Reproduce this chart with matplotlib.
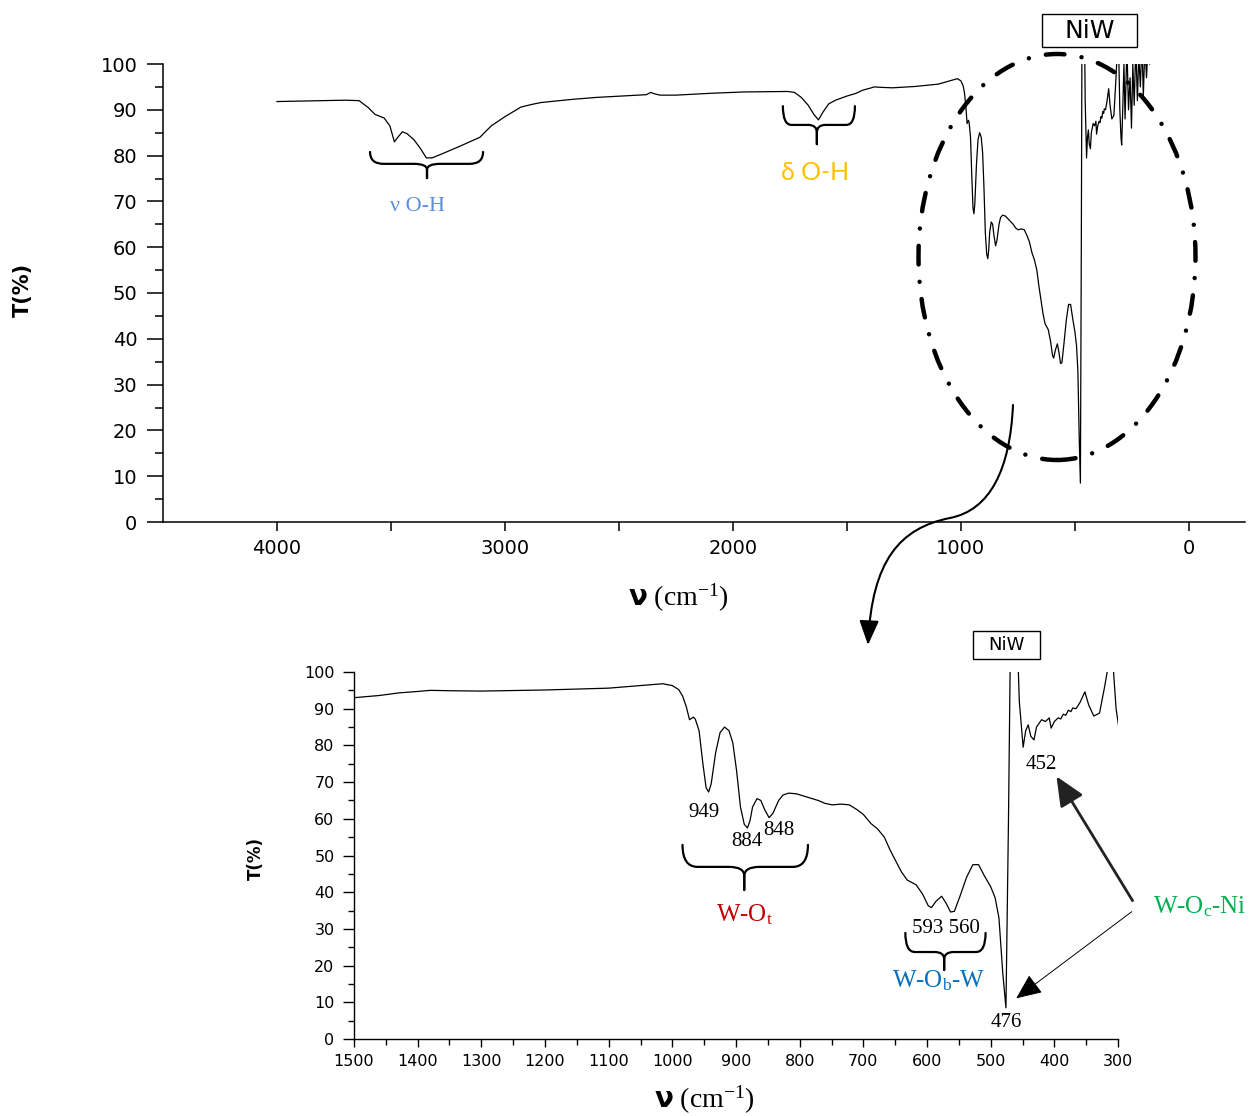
import numpy as np
import matplotlib
matplotlib.use("Agg")
import matplotlib.pyplot as plt
from matplotlib.patches import Ellipse, FancyArrowPatch, PathPatch, Rectangle
from matplotlib.path import Path

plt.rcParams['font.family'] = ['DejaVu Sans']
plt.rcParams['mathtext.fontset'] = 'custom'
plt.rcParams['mathtext.rm'] = 'Liberation Serif'
plt.rcParams['mathtext.it'] = 'Liberation Serif:italic'
plt.rcParams['mathtext.bf'] = 'DejaVu Sans:bold'

# FTIR spectrum of NiW (cm-1 / %T)
wavenumber = [
    4000, 3900, 3800, 3700, 3640, 3600, 3570, 3530, 3505, 3485,
    3470, 3450, 3430, 3400, 3370, 3345, 3320, 3280, 3200, 3110,
    3060, 3000, 2930, 2880, 2840, 2700, 2600, 2450, 2380, 2360,
    2345, 2320, 2250, 2100, 1950, 1760, 1730, 1700, 1670, 1645,
    1625, 1605, 1580, 1550, 1500, 1460, 1430, 1400, 1380, 1350,
    1300, 1200, 1100, 1030, 1015, 1000, 990, 984, 978, 973,
    967, 964, 958, 952, 947, 943, 939, 932, 925, 918,
    911, 905, 899, 893, 887, 882, 878, 874, 867, 861,
    855, 848, 842, 833, 826, 817, 805, 790, 771, 760,
    749, 735, 722, 710, 700, 688, 678, 667, 658, 650,
    640, 631, 617, 607, 598, 593, 586, 577, 570, 563,
    557, 548, 538, 528, 519, 510, 500, 493, 487, 481,
    476, 472, 469, 463, 458, 455, 449, 445, 441, 437,
    432, 428, 424, 420, 414, 408, 405, 400, 394, 390,
    386, 382, 378, 374, 371, 366, 360, 352, 346, 338,
    329, 321, 316, 312, 307, 303, 298, 295, 290, 285,
    280, 272, 265, 258, 252, 246, 240, 233, 226, 220,
    213, 206, 200, 193, 186, 178, 172,
]
transmittance = [
    91.8, 91.9, 92.0, 92.1, 92.0, 90.5, 89.0, 88.2, 86.5, 83.0,
    84.0, 85.2, 84.8, 83.5, 81.5, 79.5, 79.5, 80.3, 82.0, 84.0,
    86.5, 88.5, 90.6, 91.2, 91.6, 92.3, 92.7, 93.1, 93.3, 93.8,
    93.5, 93.2, 93.2, 93.6, 93.9, 94.0, 93.8, 92.7, 91.0, 89.0,
    87.8, 89.5, 91.3, 92.1, 93.0, 93.6, 94.3, 94.7, 95.0, 94.9,
    94.8, 95.1, 95.6, 96.6, 96.8, 96.3, 95.2, 93.5, 90.5, 87.0,
    87.7, 87.2, 84.0, 75.0, 68.5, 67.3, 69.5, 78.0, 83.5, 85.0,
    84.0, 80.7, 73.0, 63.2, 58.5, 57.5, 59.5, 63.2, 65.5, 65.0,
    62.5, 60.3, 61.5, 65.0, 66.5, 67.0, 66.8, 66.0, 65.0, 64.2,
    63.8, 64.0, 63.8, 62.5, 61.2, 58.7, 57.3, 55.0, 51.5, 48.8,
    45.5, 43.3, 42.0, 39.5, 36.3, 35.8, 37.5, 38.9, 37.0, 34.6,
    34.8, 39.0, 44.0, 47.5, 47.5, 44.5, 41.5, 38.5, 33.0, 18.0,
    8.5, 60.0, 108.0, 115.0, 108.0, 92.0, 79.5, 84.0, 85.6, 82.5,
    81.5, 85.0, 86.0, 87.0, 86.5, 87.5, 84.7, 86.5, 87.5, 87.2,
    88.5, 88.2, 89.6, 89.2, 90.2, 90.0, 91.6, 94.6, 91.0, 88.0,
    88.8, 96.0, 101.0, 104.0, 100.0, 90.0, 84.0, 82.3, 90.5, 100.0,
    88.0, 104.0, 90.0, 97.0, 86.0, 100.0, 91.0, 104.0, 92.0, 102.0,
    95.0, 105.0, 93.0, 104.0, 97.0, 106.0, 100.0,
]

# peak labels of the zoomed spectrum (text, x, y in data units)
peak_text = ["949", "884", "848", "593 560", "452", "476"]
peak_x = [951, 883, 833, 571, 421, 475]
peak_y = [61.6, 53.7, 56.7, 30.0, 74.7, 4.4]

W, H = 1252, 1116


def fx(px):
    return px / W


def fy(py):
    return 1 - py / H


def fpt(px, py):
    return (fx(px), fy(py))


def brace(ax, x0, x1, xt, y_top, y_mid, y_tip, lw=1.6):
    r = 0.12 * (x1 - x0)
    ys = y_mid - 0.4 * (y_mid - y_tip)
    codes = [Path.MOVETO, Path.CURVE3, Path.CURVE3, Path.LINETO,
             Path.CURVE3, Path.CURVE3, Path.LINETO]
    for a, s in ((x0, 1), (x1, -1)):
        verts = [(a, y_top), (a, y_mid), (a + s * r, y_mid), (xt - s * r, y_mid),
                 (xt, y_mid), (xt, ys), (xt, y_tip)]
        ax.add_patch(PathPatch(Path(verts, codes), fill=False, lw=lw,
                               color='black', clip_on=False, capstyle='round'))


fig = plt.figure(figsize=(W / 100, H / 100), dpi=100)

# ---- full spectrum ----
ax1 = fig.add_axes([fx(163), fy(522), fx(1245) - fx(163), fy(64) - fy(522)])
ax1.plot(wavenumber, transmittance, color='black', lw=0.9)
ax1.set_xlim(4500, -246)
ax1.set_ylim(0, 100)
ax1.set_xticks([4000, 3000, 2000, 1000, 0])
ax1.set_xticks(np.arange(4000, -1, -500), minor=True)
ax1.set_yticks(np.arange(0, 101, 10))
ax1.set_yticks(np.arange(0, 101, 5), minor=True)
ax1.tick_params(axis='y', which='major', length=11.5, width=1.1, pad=7, labelsize=14)
ax1.tick_params(axis='y', which='minor', length=6, width=1.1)
ax1.tick_params(axis='x', which='major', length=6.5, width=1.1, pad=6, labelsize=14)
ax1.tick_params(axis='x', which='minor', length=6.5, width=1.1)
for s in ('top', 'right'):
    ax1.spines[s].set_visible(False)
for s in ('left', 'bottom'):
    ax1.spines[s].set_linewidth(1.1)
ax1.set_ylabel('T(%)', fontsize=15, fontweight='bold')
ax1.yaxis.set_label_coords(-0.120, 0.507)
ax1.set_xlabel(r'$\mathbf{\nu}$ (cm$^{\mathrm{-1}}$)', fontsize=20,
               family='Liberation Serif', va='center')
ax1.xaxis.set_label_coords(0.476, -0.166)

brace(ax1, 3592, 3096, 3342, 80.8, 78.2, 75.1)
ax1.text(3382, 68.8, 'ν O-H', color='#5b8fe0', fontsize=16,
         family='Liberation Serif', ha='center', va='center')
brace(ax1, 1781, 1465, 1632, 90.8, 86.7, 82.5)
ax1.text(1640, 76.4, 'δ O-H', color='#ffc000', fontsize=18,
         family='Lato', ha='center', va='center')

# ---- zoomed region ----
ax2 = fig.add_axes([fx(354), fy(1039), fx(1118) - fx(354), fy(672) - fy(1039)])
ax2.plot(wavenumber, transmittance, color='black', lw=0.9)
ax2.set_xlim(1500, 300)
ax2.set_ylim(0, 100)
ax2.set_xticks(np.arange(1500, 299, -100))
ax2.set_xticks(np.arange(1500, 299, -50), minor=True)
ax2.set_yticks(np.arange(0, 101, 10))
ax2.set_yticks(np.arange(0, 101, 5), minor=True)
ax2.tick_params(axis='y', which='major', length=8, width=1.0, pad=6, labelsize=11.5)
ax2.tick_params(axis='y', which='minor', length=4.3, width=1.0)
ax2.tick_params(axis='x', which='major', length=5.5, width=1.0, pad=5, labelsize=11.5)
ax2.tick_params(axis='x', which='minor', length=4, width=1.0)
for s in ('top', 'right'):
    ax2.spines[s].set_visible(False)
for s in ('left', 'bottom'):
    ax2.spines[s].set_linewidth(1.0)
ax2.set_ylabel('T(%)', fontsize=12, fontweight='bold')
ax2.yaxis.set_label_coords(-0.117, 0.493)
ax2.set_xlabel(r'$\mathbf{\nu}$ (cm$^{\mathrm{-1}}$)', fontsize=20,
               family='Liberation Serif', va='center')
ax2.xaxis.set_label_coords(0.459, -0.166)

for t, x, y in zip(peak_text, peak_x, peak_y):
    ax2.text(x, y, t, fontsize=15, family='Liberation Serif',
             ha='center', va='center', clip_on=False)

brace(ax2, 984, 787, 887, 52.9, 46.9, 40.6)
ax2.text(886, 33.8, r'W-O$_{\mathrm{t}}$', color='#c00000', fontsize=18,
         family='Liberation Serif', ha='center', va='center')
brace(ax2, 634, 508, 573, 28.9, 23.7, 18.8)
ax2.text(582, 15.8, r'W-O$_{\mathrm{b}}$-W', color='#0070c0', fontsize=18,
         family='Liberation Serif', ha='center', va='center')
fig.text(fx(1200), fy(907), r'W-O$_{\mathrm{c}}$-Ni', color='#00b050', fontsize=18,
         family='Liberation Serif', ha='center', va='center')

# arrows from W-Oc-Ni label
fig.add_artist(FancyArrowPatch(fpt(1134, 903), fpt(1055, 774),
                               arrowstyle='-|>,head_length=0.9,head_width=0.4',
                               mutation_scale=20, lw=2, color='#222222',
                               transform=fig.transFigure))
fig.add_artist(FancyArrowPatch(fpt(1134, 910), fpt(1014, 1000),
                               arrowstyle='-|>,head_length=0.8,head_width=0.35',
                               mutation_scale=20, lw=0.7, color='black',
                               transform=fig.transFigure))

# NiW boxes
fig.add_artist(Rectangle(fpt(1042, 47), fx(1137) - fx(1042), fy(14) - fy(47),
                         fill=False, lw=1.0, transform=fig.transFigure))
fig.text(fx(1090), fy(31), 'NiW', fontsize=18, ha='center', va='center')
fig.add_artist(Rectangle(fpt(973, 659), fx(1040) - fx(973), fy(631) - fy(659),
                         fill=False, lw=1.0, transform=fig.transFigure))
fig.text(fx(1006), fy(645), 'NiW', fontsize=13, ha='center', va='center')

# dash-dot ellipse around the fingerprint region
ell = Ellipse(fpt(1057, 257), 277 / W, 406 / H, fill=False, lw=3.2,
              ls=(0, (4.2, 3.9, 0.01, 3.9)), transform=fig.transFigure)
ell.set_capstyle('round')
fig.add_artist(ell)

# curved arrow linking both panels
curve = Path([fpt(1013, 405), fpt(1010, 470), fpt(990, 510), fpt(950, 518),
              fpt(900, 528), fpt(872, 560), fpt(868, 645)],
             [Path.MOVETO, Path.CURVE4, Path.CURVE4, Path.CURVE4,
              Path.CURVE4, Path.CURVE4, Path.CURVE4])
fig.add_artist(FancyArrowPatch(path=curve,
                               arrowstyle='-|>,head_length=0.75,head_width=0.3',
                               mutation_scale=20, lw=1.5, color='black',
                               transform=fig.transFigure))

fig.savefig('out.png', dpi=100)
